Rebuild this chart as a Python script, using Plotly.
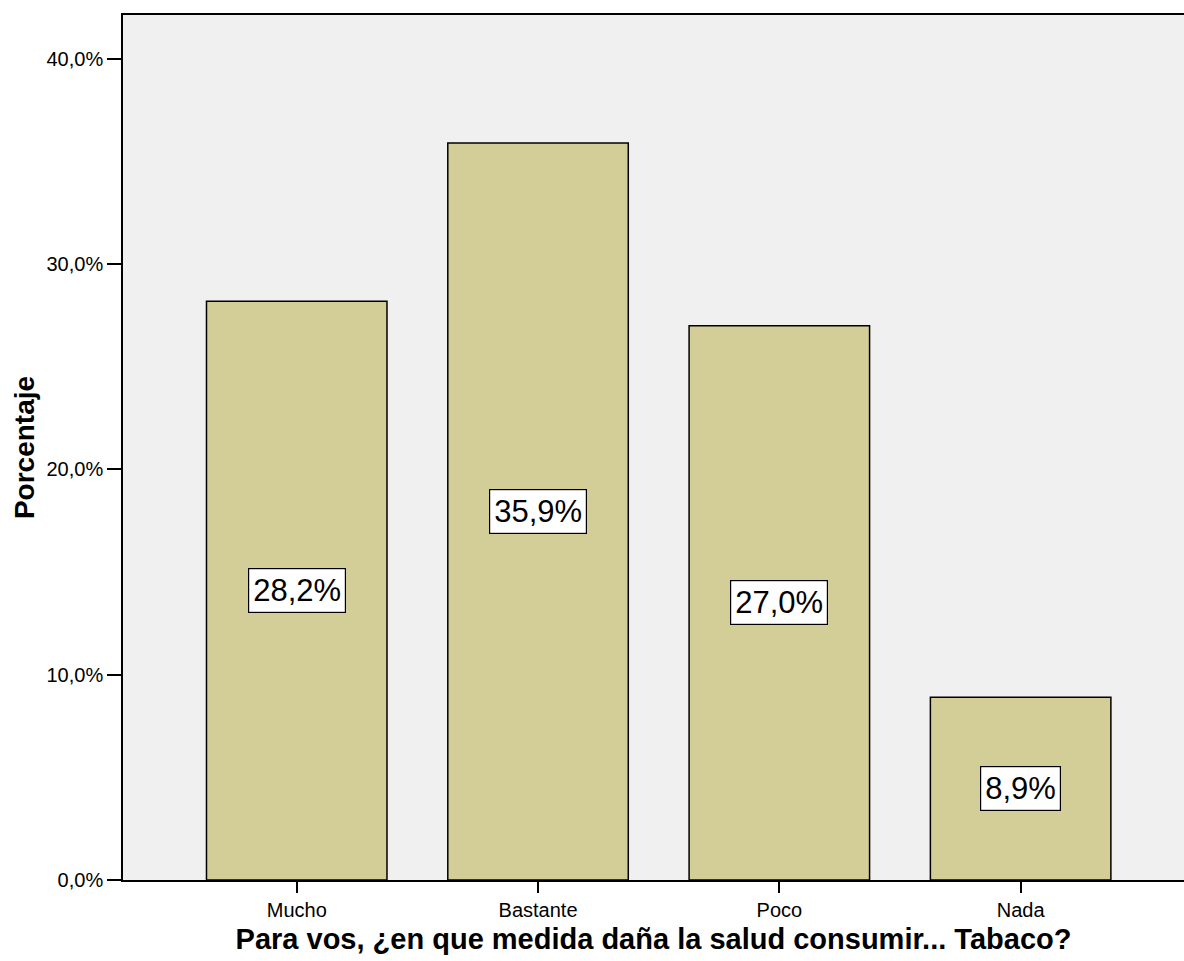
import plotly.graph_objects as go

categories = ["Mucho", "Bastante", "Poco", "Nada"]
percentages = [28.2, 35.9, 27.0, 8.9]
y_tick_values = [0, 10, 20, 30, 40]
y_tick_labels = ["0,0%", "10,0%", "20,0%", "30,0%", "40,0%"]

FONT = "Liberation Sans, Arial, sans-serif"

fig = go.Figure(
    go.Bar(
        x=categories,
        y=percentages,
        width=0.748,
        marker=dict(color="#D3CE98", line=dict(color="#000000", width=1.5)),
        hoverinfo="skip",
    )
)

# value labels in white boxes at the middle of each bar
for cat, val in zip(categories, percentages):
    fig.add_annotation(
        x=cat,
        y=val / 2,
        text=f"{val:.1f}%".replace(".", ","),
        showarrow=False,
        font=dict(family=FONT, size=31, color="#000000"),
        bgcolor="#FFFFFF",
        bordercolor="#000000",
        borderwidth=1.2,
        borderpad=4,
    )

fig.update_layout(
    width=1184,
    height=961,
    margin=dict(l=123, r=0, t=15, b=81),
    paper_bgcolor="#FFFFFF",
    plot_bgcolor="#F0F0F0",
    showlegend=False,
    font=dict(family=FONT, color="#000000"),
)

fig.update_xaxes(
    range=[-0.72, 3.677],
    showgrid=False,
    showline=True,
    linecolor="#000000",
    linewidth=1.6,
    mirror=True,
    ticks="outside",
    ticklen=11,
    tickwidth=1.6,
    tickcolor="#000000",
    tickfont=dict(family=FONT, size=20),
    title=dict(
        text="<b>Para vos, ¿en que medida daña la salud consumir... Tabaco?</b>",
        font=dict(family=FONT, size=29),
        standoff=9,
    ),
)

fig.update_yaxes(
    range=[0, 42.14],
    tickvals=y_tick_values,
    ticktext=y_tick_labels,
    showgrid=False,
    zeroline=False,
    showline=True,
    linecolor="#000000",
    linewidth=1.6,
    ticks="outside",
    ticklen=14,
    tickwidth=1.6,
    tickcolor="#000000",
    tickfont=dict(family=FONT, size=20),
    title=dict(
        text="<b>Porcentaje</b>",
        font=dict(family=FONT, size=28),
        standoff=4,
    ),
)

fig.write_html("out.html")
